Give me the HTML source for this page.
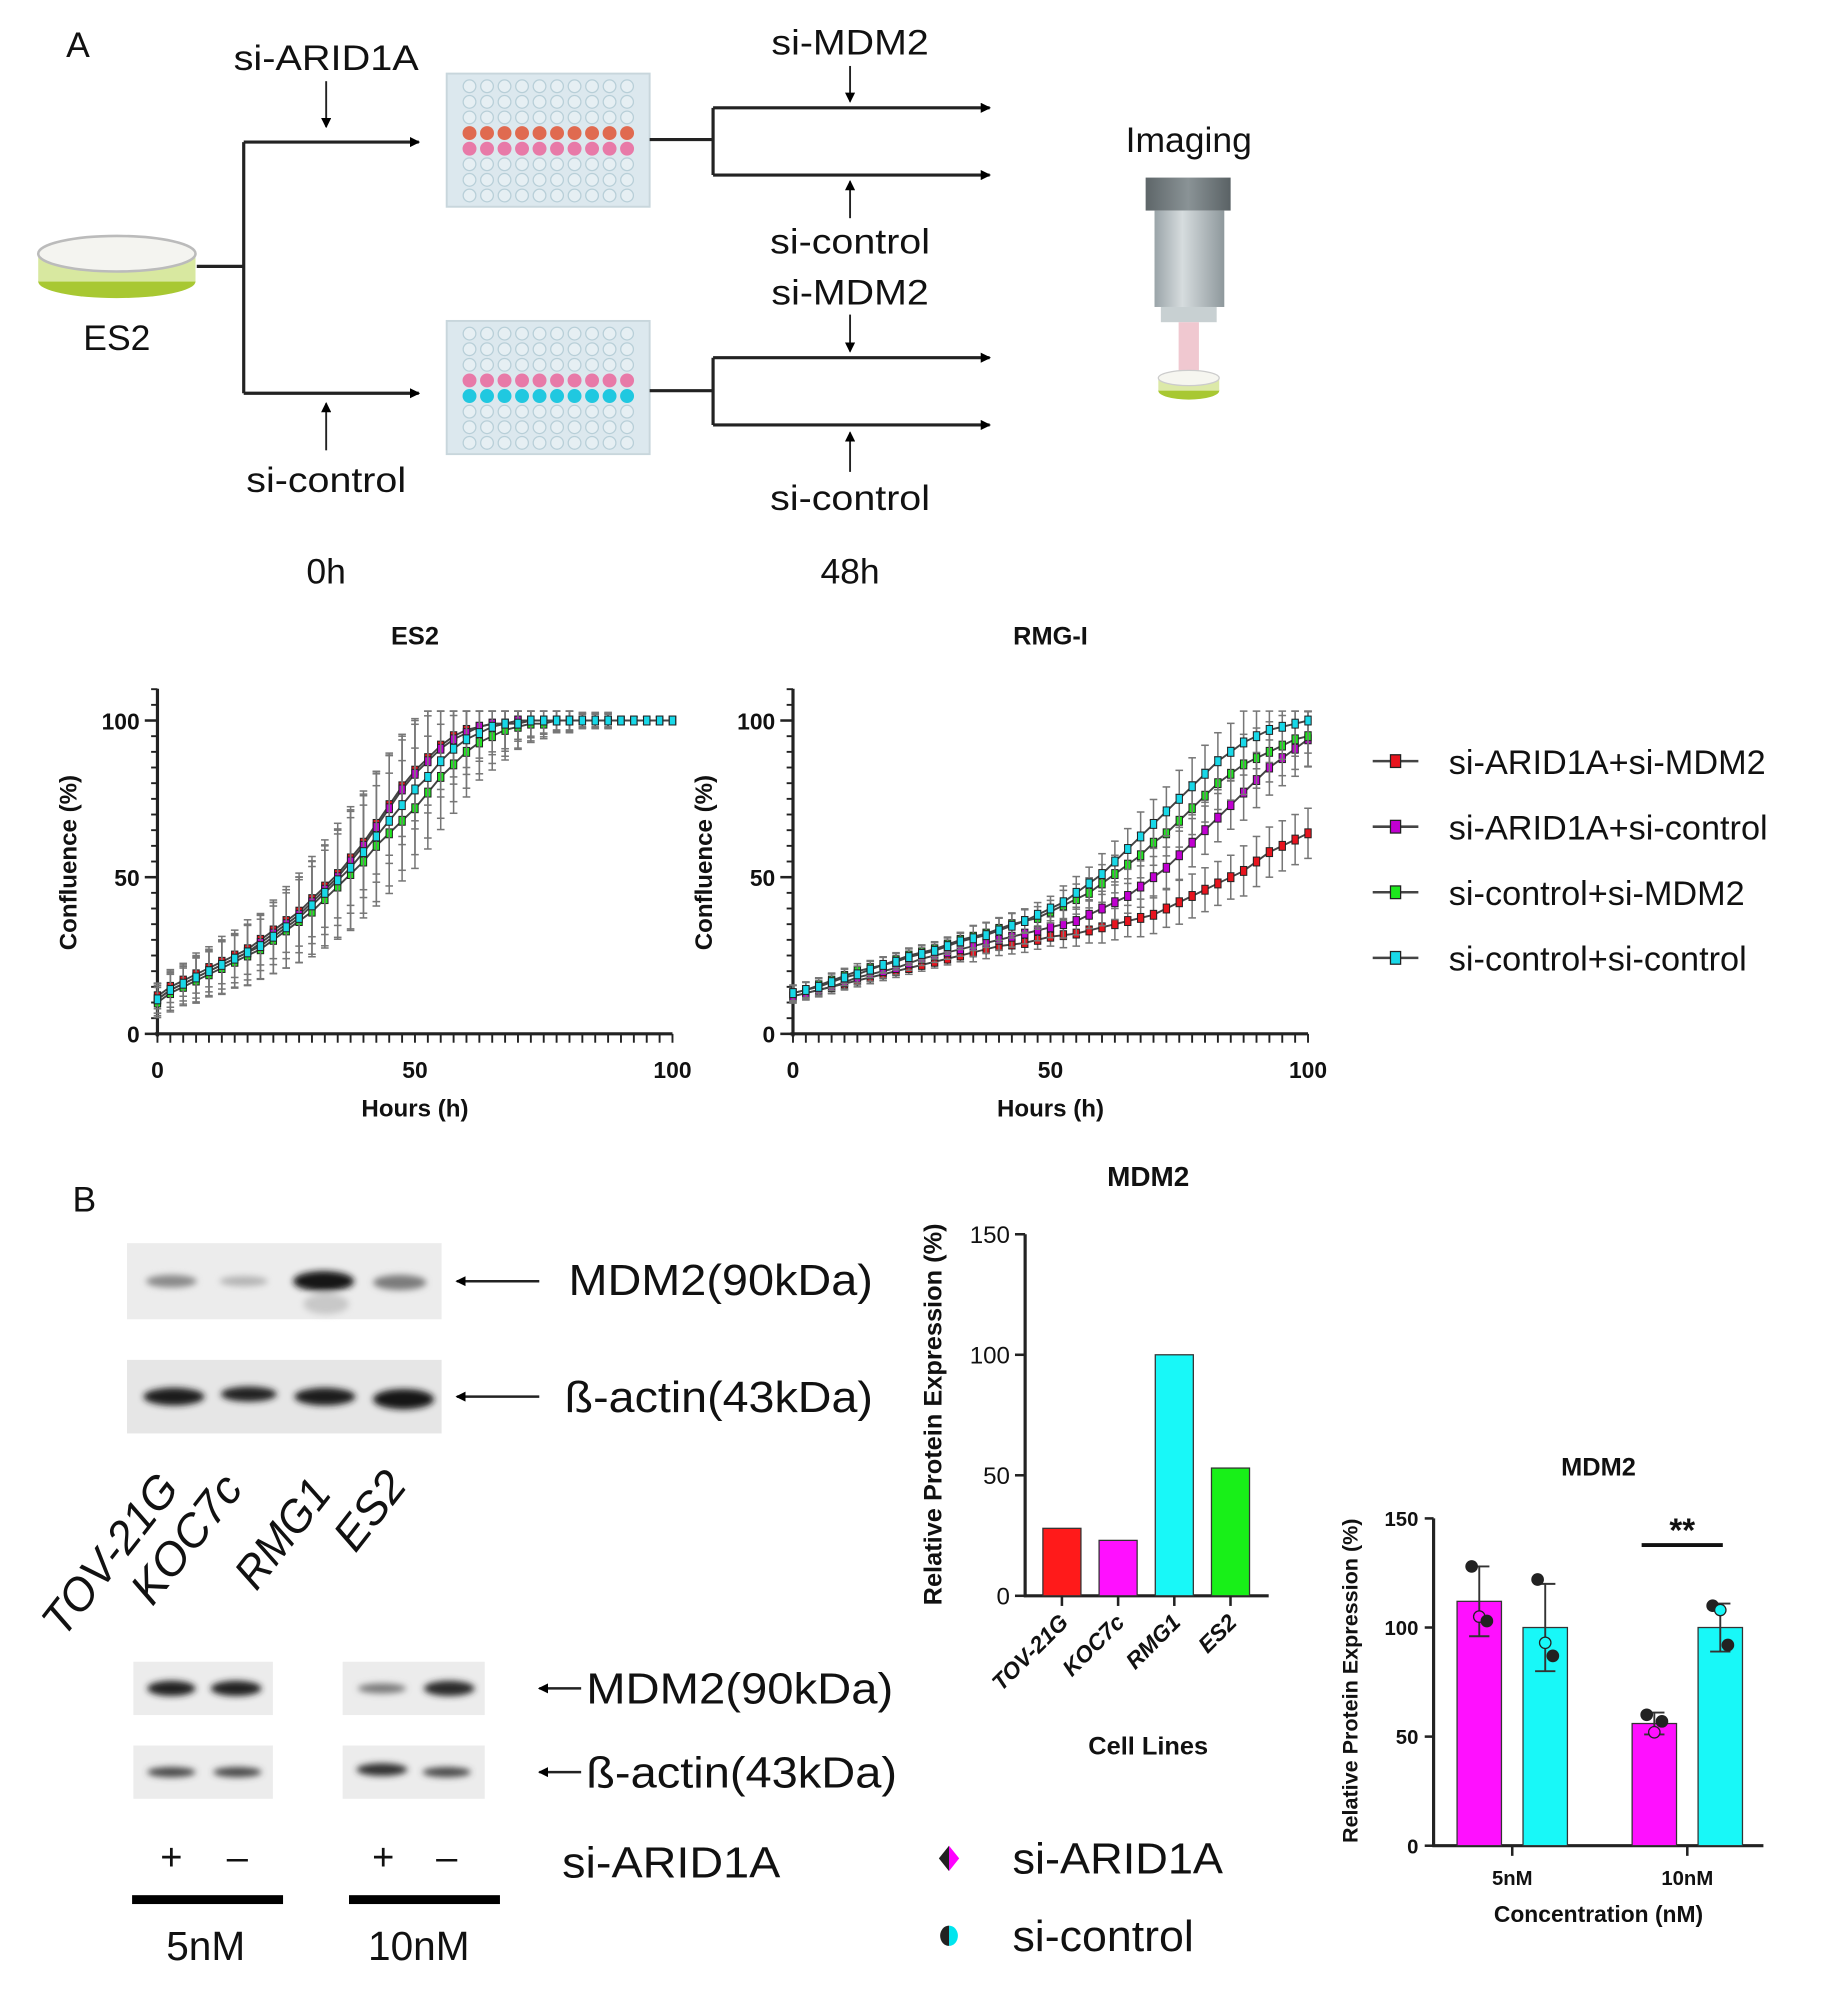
<!DOCTYPE html>
<html><head><meta charset="utf-8"><style>
html,body{margin:0;padding:0;background:#fff}
svg{display:block}
text{font-family:"Liberation Sans",sans-serif;fill:#111}
.b{font-weight:bold}
</style></head><body>
<svg id="fig" width="1827" height="2003" viewBox="0 0 1440 1579" xmlns="http://www.w3.org/2000/svg">
<defs>
<marker id="ah" markerWidth="8" markerHeight="8" refX="7" refY="4" orient="auto" markerUnits="userSpaceOnUse"><path d="M0,0 L18,4 L0,8z" transform="scale(0.45,1)"/></marker>
<linearGradient id="mic" x1="0" x2="1"><stop offset="0" stop-color="#9aa4a8"/><stop offset="0.4" stop-color="#d6dcde"/><stop offset="1" stop-color="#8e989c"/></linearGradient>
<linearGradient id="cap" x1="0" x2="1"><stop offset="0" stop-color="#5e6669"/><stop offset="0.5" stop-color="#8a9396"/><stop offset="1" stop-color="#5a6265"/></linearGradient>
<filter id="blur"><feGaussianBlur stdDeviation="2.5"/></filter>
</defs>

<!-- Panel A diagram -->
<g stroke="#222" fill="none" stroke-width="2.5">
<text x="52" y="45" font-size="28" stroke="none">A</text>
<g>
<ellipse cx="92" cy="222" rx="62" ry="13" fill="#a8c832" stroke="none"/>
<rect x="30" y="200" width="124" height="22" fill="#d8e8a0" stroke="none"/>
<ellipse cx="92" cy="200" rx="62" ry="14" fill="#f4f4f0" stroke="#bbb" stroke-width="2"/>
</g>
<text x="92" y="276" font-size="28" text-anchor="middle" stroke="none">ES2</text>
<path d="M155,210 H192 M192,112 V310"/>
<path d="M192,112 H330" marker-end="url(#ah)"/>
<path d="M192,310 H330" marker-end="url(#ah)"/>
<text x="257" y="55" font-size="28" text-anchor="middle" stroke="none" textLength="146" lengthAdjust="spacingAndGlyphs">si-ARID1A</text>
<path d="M257,64 V100" stroke-width="1.5" marker-end="url(#ah)"/>
<text x="257" y="388" font-size="28" text-anchor="middle" stroke="none" textLength="126" lengthAdjust="spacingAndGlyphs">si-control</text>
<path d="M257,355 V318" stroke-width="1.5" marker-end="url(#ah)"/>
<g id="plates" stroke="none"></g>
<path d="M512,110 H562 M562,85 V138 M512,308 H562 M562,282 V335"/>
<path d="M562,85 H780" marker-end="url(#ah)"/>
<path d="M562,138 H780" marker-end="url(#ah)"/>
<path d="M562,282 H780" marker-end="url(#ah)"/>
<path d="M562,335 H780" marker-end="url(#ah)"/>
<text x="670" y="43" font-size="28" text-anchor="middle" stroke="none" textLength="124" lengthAdjust="spacingAndGlyphs">si-MDM2</text>
<path d="M670,52 V80" stroke-width="1.5" marker-end="url(#ah)"/>
<text x="670" y="200" font-size="28" text-anchor="middle" stroke="none" textLength="126" lengthAdjust="spacingAndGlyphs">si-control</text>
<path d="M670,172 V143" stroke-width="1.5" marker-end="url(#ah)"/>
<text x="670" y="240" font-size="28" text-anchor="middle" stroke="none" textLength="124" lengthAdjust="spacingAndGlyphs">si-MDM2</text>
<path d="M670,248 V277" stroke-width="1.5" marker-end="url(#ah)"/>
<text x="670" y="402" font-size="28" text-anchor="middle" stroke="none" textLength="126" lengthAdjust="spacingAndGlyphs">si-control</text>
<path d="M670,372 V341" stroke-width="1.5" marker-end="url(#ah)"/>
<text x="257" y="460" font-size="28" text-anchor="middle" stroke="none">0h</text>
<text x="670" y="460" font-size="28" text-anchor="middle" stroke="none">48h</text>
<text x="937" y="120" font-size="28" text-anchor="middle" stroke="none">Imaging</text>
<g stroke="none">
<rect x="903" y="140" width="67" height="26" fill="url(#cap)"/>
<rect x="910" y="166" width="55" height="76" fill="url(#mic)"/>
<rect x="915" y="242" width="44" height="12" fill="#c8d0d2"/>
<rect x="929" y="254" width="16" height="40" fill="#f0c8d0"/>
<ellipse cx="937" cy="308" rx="24" ry="7" fill="#a8c832"/>
<rect x="913" y="298" width="48" height="10" fill="#dce9a8"/>
<ellipse cx="937" cy="298" rx="24" ry="6" fill="#f6f6f0" stroke="#ccc" stroke-width="1"/>
</g>
</g>

<!-- Growth charts -->
<g id="growth"></g>

<!-- Panel B blots -->
<g>
<text x="57" y="955" font-size="28">B</text>
<rect x="100" y="980" width="248" height="60" fill="#ececec"/>
<rect x="100" y="1072" width="248" height="58" fill="#e6e6e6"/>
<g filter="url(#blur)">
<ellipse cx="135" cy="1010" rx="20" ry="5" fill="#8a8a8a"/>
<ellipse cx="192" cy="1010" rx="19" ry="4" fill="#b4b4b4"/>
<ellipse cx="255" cy="1010" rx="24" ry="8" fill="#181818"/>
<ellipse cx="257" cy="1028" rx="18" ry="8" fill="#c8c8c8"/>
<ellipse cx="315" cy="1011" rx="21" ry="6" fill="#7c7c7c"/>
<ellipse cx="137" cy="1101" rx="24" ry="7" fill="#1a1a1a"/>
<ellipse cx="196" cy="1099" rx="22" ry="6" fill="#222"/>
<ellipse cx="256" cy="1101" rx="24" ry="7" fill="#1a1a1a"/>
<ellipse cx="318" cy="1103" rx="24" ry="8" fill="#151515"/>
</g>
<path d="M425,1010 H360" stroke="#222" stroke-width="2" marker-end="url(#ah)"/>
<path d="M425,1101 H360" stroke="#222" stroke-width="2" marker-end="url(#ah)"/>
<text x="448" y="1021" font-size="34" textLength="240" lengthAdjust="spacingAndGlyphs">MDM2(90kDa)</text>
<text x="445" y="1113" font-size="34" textLength="243" lengthAdjust="spacingAndGlyphs">ß-actin(43kDa)</text>
<g font-size="36" font-style="italic">
<text transform="translate(50,1292) rotate(-52)" textLength="150" lengthAdjust="spacingAndGlyphs">TOV-21G</text>
<text transform="translate(120,1267) rotate(-52)" textLength="118" lengthAdjust="spacingAndGlyphs">KOC7c</text>
<text transform="translate(202,1255) rotate(-52)" textLength="98" lengthAdjust="spacingAndGlyphs">RMG1</text>
<text transform="translate(280,1225) rotate(-52)" textLength="68" lengthAdjust="spacingAndGlyphs">ES2</text>
</g>
<rect x="105" y="1310" width="110" height="42" fill="#ececec"/>
<rect x="270" y="1310" width="112" height="42" fill="#ececec"/>
<rect x="105" y="1376" width="110" height="42" fill="#ececec"/>
<rect x="270" y="1376" width="112" height="42" fill="#ececec"/>
<g filter="url(#blur)">
<ellipse cx="135" cy="1331" rx="19" ry="6" fill="#222"/>
<ellipse cx="186" cy="1331" rx="20" ry="6" fill="#222"/>
<ellipse cx="301" cy="1331" rx="19" ry="4" fill="#7a7a7a"/>
<ellipse cx="354" cy="1331" rx="20" ry="6" fill="#2a2a2a"/>
<ellipse cx="135" cy="1397" rx="19" ry="4" fill="#4a4a4a"/>
<ellipse cx="187" cy="1397" rx="19" ry="4" fill="#4a4a4a"/>
<ellipse cx="301" cy="1395" rx="20" ry="5" fill="#333"/>
<ellipse cx="352" cy="1397" rx="19" ry="4" fill="#4a4a4a"/>
</g>
<path d="M458,1331 H425" stroke="#222" stroke-width="2" marker-end="url(#ah)"/>
<path d="M458,1397 H425" stroke="#222" stroke-width="2" marker-end="url(#ah)"/>
<text x="462" y="1343" font-size="34" textLength="242" lengthAdjust="spacingAndGlyphs">MDM2(90kDa)</text>
<text x="462" y="1409" font-size="34" textLength="245" lengthAdjust="spacingAndGlyphs">ß-actin(43kDa)</text>
<g font-size="30" text-anchor="middle">
<text x="135" y="1474">+</text><text x="187" y="1474">–</text>
<text x="302" y="1474">+</text><text x="352" y="1474">–</text>
</g>
<text x="443" y="1480" font-size="34" textLength="172" lengthAdjust="spacingAndGlyphs">si-ARID1A</text>
<rect x="104" y="1494" width="119" height="7" fill="#000"/>
<rect x="275" y="1494" width="119" height="7" fill="#000"/>
<text x="162" y="1545" font-size="32" text-anchor="middle">5nM</text>
<text x="330" y="1545" font-size="32" text-anchor="middle">10nM</text>
</g>

<!-- legend for bar chart -->
<g>
<path d="M748,1455 L756,1465 L748,1475 Z" fill="#ff00ff"/><path d="M748,1455 L740,1465 L748,1475 Z" fill="#222"/>
<text x="798" y="1477" font-size="34" textLength="166" lengthAdjust="spacingAndGlyphs">si-ARID1A</text>
<path d="M748,1518 A7,8 0 0 1 748,1534 Z" fill="#00e5ee"/><path d="M748,1518 A7,8 0 0 0 748,1534 Z" fill="#222"/>
<text x="798" y="1538" font-size="34" textLength="143" lengthAdjust="spacingAndGlyphs">si-control</text>
</g>
<g id="bars1"></g>
<g id="bars2"></g>
</svg>
<script>
// ---------- Data ----------
const hours = [0,2.5,5,7.5,10,12.5,15,17.5,20,22.5,25,27.5,30,32.5,35,37.5,40,42.5,45,47.5,50,52.5,55,57.5,60,62.5,65,67.5,70,72.5,75,77.5,80,82.5,85,87.5,90,92.5,95,97.5,100];
const seriesNames = ["si-ARID1A+si-MDM2","si-ARID1A+si-control","si-control+si-MDM2","si-control+si-control"];
const seriesColors = ["#e8141e","#c000d0","#1ee81e","#18d8e8"];
const es2Red    = [12,15,17,19,21,23,25,27,30,33,36,39,43,47,51,56,61,67,73,79,84,88,92,95,97,98,99,99,100,100,100,100,100,100,100,100,100,100,100,100,100];
const es2Purple = [11,14,16,18,20,22,24,26,29,32,35,38,42,46,50,55,60,66,72,78,83,87,91,94,96,98,99,99,100,100,100,100,100,100,100,100,100,100,100,100,100];
const es2Green  = [10,13,15,17,19,21,23,25,27,30,33,36,39,43,47,51,55,60,64,68,72,77,82,86,90,93,95,97,98,99,99,100,100,100,100,100,100,100,100,100,100];
const es2Cyan   = [11,14,16,18,20,22,24,26,28,31,34,37,41,45,49,53,58,63,68,73,78,82,87,91,94,96,98,99,99,100,100,100,100,100,100,100,100,100,100,100,100];
const es2Sd     = [4,5,5,6,6,7,7,8,8,9,10,11,12,13,14,15,15,16,16,16,16,15,14,13,12,10,9,8,6,5,4,3,3,2,2,2,1,1,1,1,1];
const rmgRed    = [12,13,14,15,16,17,18,19,20,21,22,23,24,25,26,27,28,28.5,29,30,31,31.5,32,33,34,35,36,37,38,40,42,44,46,48,50,52,55,58,60,62,64];
const rmgPurple = [12,13,14,15,16.5,18,19,20,21,22.5,24,25,26,27,28,29,30,31,32,33,34,35,36,38,40,42,44,47,50,53,57,61,65,69,73,77,81,85,88,91,94];
const rmgGreen  = [13,14,15.5,17,18.5,20,21,22,23.5,25,26,27,28.5,30,31,32,33.5,35,36,37,39,41,43,45,48,51,54,57,61,64,68,72,76,80,83,86,88,90,92,94,95];
const rmgCyan   = [13,14,15,16.5,18,19,20.5,22,23,24.5,25.5,26.5,28,29.5,30.5,31.5,33,34.5,36,38,40,42,45,48,51,55,59,63,67,71,75,79,83,87,90,93,95,97,98,99,100];
const rmgSd     = [2,2,2,2,2,2,2,2,2,2,2,2,2,2,3,3,3,3,3,3,3,4,4,4,5,5,5,6,6,6,7,7,7,7,7,8,8,8,8,8,8];
const yTicks = [0,50,100];
const xTicks = [0,50,100];

const cellLines = ["TOV-21G","KOC7c","RMG1","ES2"];
const cellValues = [28,23,100,53];
const cellColors = ["#ff1a1a","#ff10ff","#18f8f8","#18f018"];
const barTicks = [0,50,100,150];

const concCats = ["5nM","10nM"];
const arid1aMeans = [112,56];
const arid1aSd = [16,5];
const controlMeans = [100,100];
const controlSd = [20,11];
const arid1aPoints = [[128,105,103],[60,52,57]];
const controlPoints = [[122,93,87],[110,108,92]];

const NS="http://www.w3.org/2000/svg";
function mk(tag, attrs, parent){const e=document.createElementNS(NS,tag);for(const k in attrs)e.setAttribute(k,attrs[k]);parent.appendChild(e);return e;}

// ---------- Plates ----------
(function(){
  const g=document.getElementById('plates');
  [[352,58,['#e06a50','#e87aa8']],[352,253,['#e87aa8','#20c8e0']]].forEach(([px,py,cols],pi)=>{
    const r=mk('rect',{x:px,y:py,width:160,height:105,fill:'#dce8ee',stroke:'#c8d6dc','stroke-width':1.5},g);
    
    
    for(let row=0;row<8;row++)for(let c=0;c<10;c++){
      let fill='none',st='#b8cfd8';
      if(row===3){fill=cols[0];st=cols[0];}
      if(row===4){fill=cols[1];st=cols[1];}
      mk('circle',{cx:px+18+c*13.8,cy:py+10+row*12.3,r:5,fill:fill==='none'?'#e6eff3':fill,stroke:st,'stroke-width':1},g);
    }
  });
})();

// ---------- Growth charts ----------
function growth(x0,title,data,sd){
  const g=document.getElementById('growth');
  const cg=mk('g',{},g);
  
  
  const X=v=>x0+v*4.06, Y=v=>815-v*2.47;
  const t=mk('text',{x:x0+203,y:508,'font-size':20,'text-anchor':'middle',class:'b'},cg);t.textContent=title;
  
  
  mk('line',{x1:x0,y1:543,x2:x0,y2:817,stroke:'#222','stroke-width':2.5},cg);
  mk('line',{x1:x0-2,y1:815,x2:X(100),y2:815,stroke:'#222','stroke-width':2.5},cg);
  for(let v=0;v<=100;v+=2.5) mk('line',{x1:X(v),y1:815,x2:X(v),y2:822,stroke:'#222','stroke-width':1.5},cg);
  for(let v=0;v<=110;v+=5) mk('line',{x1:x0-5,y1:Y(v),x2:x0,y2:Y(v),stroke:'#222','stroke-width':1.5},cg);
  yTicks.forEach(v=>{const e=mk('text',{x:x0-14,y:Y(v)+7,'font-size':18,'text-anchor':'end',class:'b'},cg);e.textContent=v;
    mk('line',{x1:x0-10,y1:Y(v),x2:x0,y2:Y(v),stroke:'#222','stroke-width':2},cg);});
  xTicks.forEach(v=>{const e=mk('text',{x:X(v),y:850,'font-size':18,'text-anchor':'middle',class:'b'},cg);e.textContent=v;});
  const xl=mk('text',{x:x0+203,y:880,'font-size':19,'text-anchor':'middle',class:'b'},cg);xl.textContent='Hours (h)';
  
  
  const yl=mk('text',{transform:`translate(${x0-64},680) rotate(-90)`,'font-size':19,'text-anchor':'middle',class:'b'},cg);yl.textContent='Confluence (%)';
  
  
  data.forEach((s,si)=>{
    const sg=mk('g',{},cg);
    
    
    hours.forEach((h,i)=>{
      const top=Y(Math.min(s[i]+sd[i]*(1+si*0.1),103)), bot=Y(s[i]-sd[i]*(1+si*0.1));
      mk('line',{x1:X(h),y1:top,x2:X(h),y2:bot,stroke:'#777','stroke-width':1.2},sg);
      mk('line',{x1:X(h)-3,y1:top,x2:X(h)+3,y2:top,stroke:'#777','stroke-width':1.2},sg);
      mk('line',{x1:X(h)-3,y1:bot,x2:X(h)+3,y2:bot,stroke:'#777','stroke-width':1.2},sg);
    });
    mk('polyline',{points:hours.map((h,i)=>X(h)+','+Y(s[i])).join(' '),fill:'none',stroke:'#444','stroke-width':1.5},sg);
    hours.forEach((h,i)=>{
      mk('rect',{x:X(h)-2.5,y:Y(s[i])-3.5,width:5,height:7,fill:seriesColors[si],stroke:'#222','stroke-width':0.8},sg);
    });
  });
}
growth(124,'ES2',[es2Red,es2Purple,es2Green,es2Cyan],es2Sd);
growth(625,'RMG-I',[rmgRed,rmgPurple,rmgGreen,rmgCyan],rmgSd);
(function(){
  const g=document.getElementById('growth');
  seriesNames.forEach((n,i)=>{
    const y=600+i*51.7;
    const lg=mk('g',{},g);
    
    
    mk('line',{x1:1082,y1:y,x2:1118,y2:y,stroke:'#444','stroke-width':2},lg);
    mk('rect',{x:1096,y:y-5,width:8,height:10,fill:seriesColors[i],stroke:'#222','stroke-width':1},lg);
    const t=mk('text',{x:1142,y:y+10,'font-size':27,fill:'#333'},lg);t.textContent=n;
  });
})();

// ---------- Bar chart 1 ----------
(function(){
  const g=document.getElementById('bars1');
  const ax=808, Y=v=>1258-v*1.9;
  const t=mk('text',{x:905,y:935,'font-size':22,'text-anchor':'middle',class:'b'},g);t.textContent='MDM2';
  mk('line',{x1:ax,y1:Y(150),x2:ax,y2:1259,stroke:'#222','stroke-width':2.5},g);
  mk('line',{x1:ax-1,y1:1258,x2:1000,y2:1258,stroke:'#222','stroke-width':2.5},g);
  barTicks.forEach(v=>{mk('line',{x1:ax-8,y1:Y(v),x2:ax,y2:Y(v),stroke:'#222','stroke-width':2},g);
    const e=mk('text',{x:ax-12,y:Y(v)+7,'font-size':19,'text-anchor':'end'},g);e.textContent=v;});
  cellLines.forEach((c,i)=>{
    const cx=837+i*44.3;
    const b=mk('rect',{x:cx-15,y:Y(cellValues[i]),width:30,height:cellValues[i]*1.9,fill:cellColors[i],stroke:'#333','stroke-width':1},g);
    
    
    mk('line',{x1:cx,y1:1258,x2:cx,y2:1266,stroke:'#222','stroke-width':2},g);
    const l=mk('text',{transform:`translate(${cx+6},1280) rotate(-45)`,'font-size':18,'text-anchor':'end',class:'b','font-style':'italic'},g);l.textContent=c;
  });
  const xl=mk('text',{x:905,y:1383,'font-size':20,'text-anchor':'middle',class:'b'},g);xl.textContent='Cell Lines';
  const yl=mk('text',{transform:'translate(742,1115) rotate(-90)','font-size':20,'text-anchor':'middle',class:'b'},g);yl.textContent='Relative Protein Expression (%)';
  
  
})();

// ---------- Bar chart 2 ----------
(function(){
  const g=document.getElementById('bars2');
  const ax=1130, Y=v=>1455-v*1.72;
  const t=mk('text',{x:1260,y:1163,'font-size':20,'text-anchor':'middle',class:'b'},g);t.textContent='MDM2';
  mk('line',{x1:ax,y1:Y(150),x2:ax,y2:1456,stroke:'#222','stroke-width':2.5},g);
  mk('line',{x1:ax-1,y1:1455,x2:1390,y2:1455,stroke:'#222','stroke-width':2.5},g);
  barTicks.forEach(v=>{mk('line',{x1:ax-7,y1:Y(v),x2:ax,y2:Y(v),stroke:'#222','stroke-width':2},g);
    const e=mk('text',{x:ax-12,y:Y(v)+6,'font-size':16,'text-anchor':'end',class:'b'},g);e.textContent=v;});
  concCats.forEach((c,i)=>{
    const gx=1192+i*138;
    mk('line',{x1:gx,y1:1455,x2:gx,y2:1463,stroke:'#222','stroke-width':2},g);
    const l=mk('text',{x:gx,y:1486,'font-size':16,'text-anchor':'middle',class:'b'},g);l.textContent=c;
    [[arid1aMeans,arid1aSd,arid1aPoints,'#ff10ff',-26,'arid1a'],[controlMeans,controlSd,controlPoints,'#18f8f8',26,'control']].forEach(([m,s,p,col,off,nm])=>{
      const cx=gx+off;
      const b=mk('rect',{x:cx-17.5,y:Y(m[i]),width:35,height:m[i]*1.72,fill:col,stroke:'#333','stroke-width':1},g);
      
      
      mk('line',{x1:cx,y1:Y(m[i]+s[i]),x2:cx,y2:Y(m[i]-s[i]),stroke:'#333','stroke-width':1.5},g);
      mk('line',{x1:cx-8,y1:Y(m[i]+s[i]),x2:cx+8,y2:Y(m[i]+s[i]),stroke:'#333','stroke-width':1.5},g);
      mk('line',{x1:cx-8,y1:Y(m[i]-s[i]),x2:cx+8,y2:Y(m[i]-s[i]),stroke:'#333','stroke-width':1.5},g);
      p[i].forEach((v,k)=>{mk('circle',{cx:cx-6+k*6,cy:Y(v),r:4.5,fill:k%2?col:'#222',stroke:'#222','stroke-width':1},g);});
    });
  });
  mk('line',{x1:1294,y1:1218,x2:1358,y2:1218,stroke:'#111','stroke-width':3},g);
  const s=mk('text',{x:1326,y:1215,'font-size':26,'text-anchor':'middle',class:'b'},g);s.textContent='**';
  
  
  const xl=mk('text',{x:1260,y:1515,'font-size':18,'text-anchor':'middle',class:'b'},g);xl.textContent='Concentration (nM)';
  const yl=mk('text',{transform:'translate(1070,1325) rotate(-90)','font-size':17,'text-anchor':'middle',class:'b'},g);yl.textContent='Relative Protein Expression (%)';
  
  
})();
</script>
</body></html>
